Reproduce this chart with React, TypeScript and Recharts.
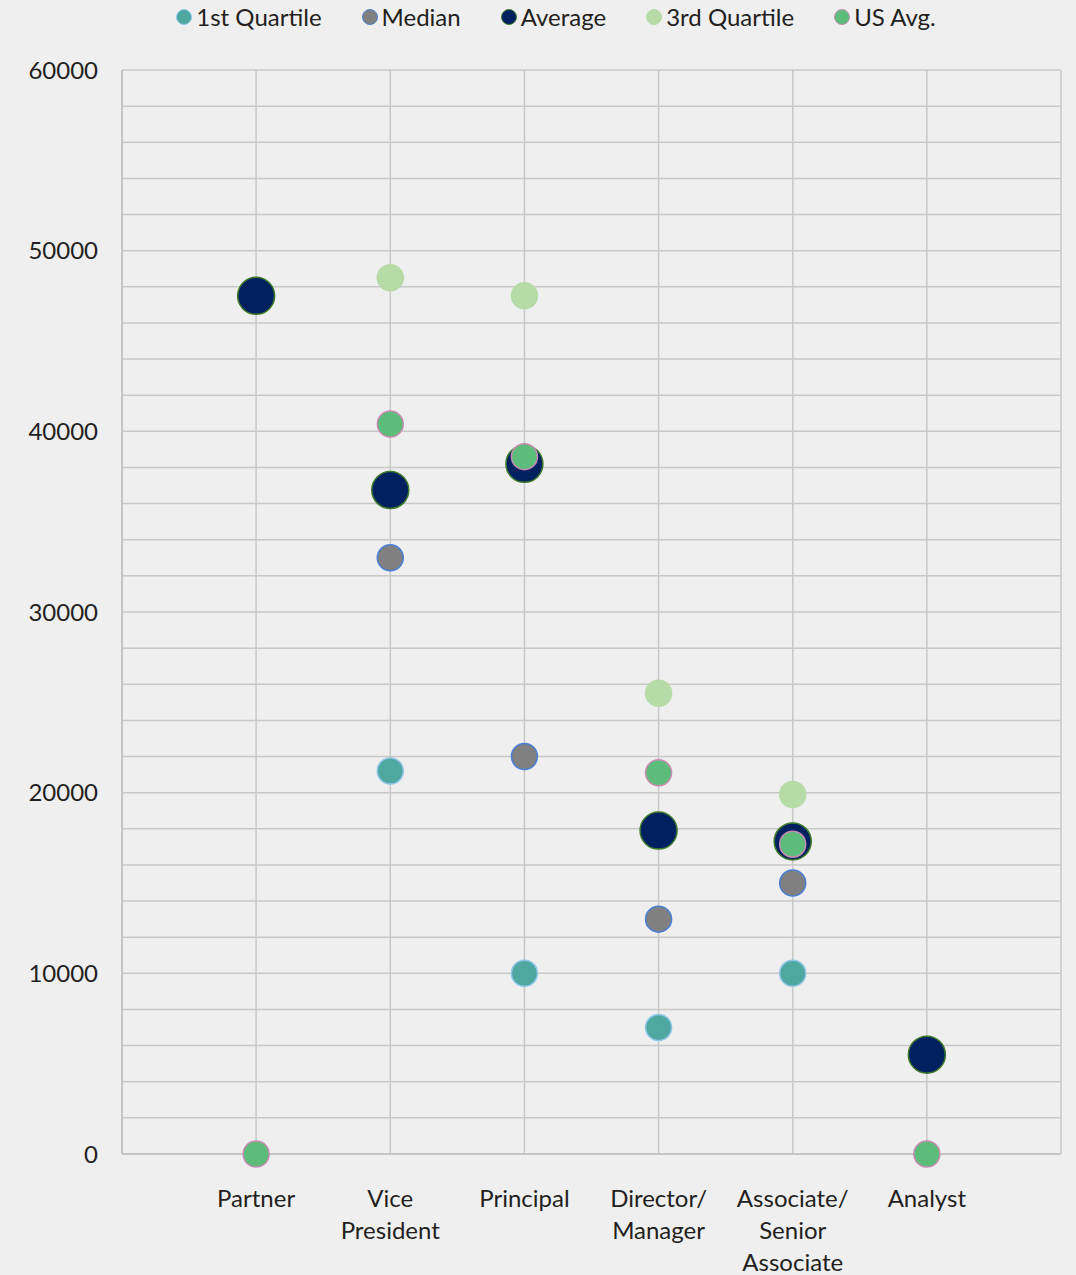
import { ScatterChart, Scatter, XAxis, YAxis, CartesianGrid } from "recharts";

const categories = ["Partner", "Vice\nPresident", "Principal", "Director/\nManager", "Associate/\nSenior\nAssociate", "Analyst"];
const yTicks = [0, 2000, 4000, 6000, 8000, 10000, 12000, 14000, 16000, 18000, 20000, 22000, 24000, 26000, 28000, 30000, 32000, 34000, 36000, 38000, 40000, 42000, 44000, 46000, 48000, 50000, 52000, 54000, 56000, 58000, 60000];

const firstQuartile = [null, 21200, 10000, 7000, 10000, null];
const median = [null, 33000, 22000, 13000, 15000, null];
const average = [47500, 36750, 38200, 17900, 17300, 5500];
const thirdQuartile = [null, 48500, 47500, 25500, 19900, null];
const usAvg = [0, 40400, 38600, 21100, 17150, 0];

const FONT = "Lato, 'Noto Sans', sans-serif";
const TEXT = "#231f20";

const series = [
  { name: "1st Quartile", values: firstQuartile, fill: "#4fa8a0", stroke: "#8ec6e6", r: 13 },
  { name: "Median", values: median, fill: "#808080", stroke: "#4a7fd6", r: 13 },
  { name: "Average", values: average, fill: "#002060", stroke: "#3e7a2c", r: 18.5 },
  { name: "3rd Quartile", values: thirdQuartile, fill: "#b7dba7", stroke: "#b7dba7", r: 13 },
  { name: "US Avg.", values: usAvg, fill: "#5bbd79", stroke: "#c98bb3", r: 13 },
];

const toRows = (vals: (number | null)[]) =>
  vals.map((v, i) => ({ x: i + 1, y: v })).filter((d) => d.y !== null);

function XTick(props: any) {
  const { x, y, payload } = props;
  const i = payload.value - 1;
  if (i < 0 || i >= categories.length) return null;
  const lines = categories[i].split("\n");
  return (
    <text x={x} y={y + 45} textAnchor="middle" fill={TEXT} fontSize={24} fontFamily={FONT}>
      {lines.map((l, k) => (
        <tspan key={k} x={x} dy={k === 0 ? 0 : 32}>{l}</tspan>
      ))}
    </text>
  );
}

function makeShape(fill: string, stroke: string, r: number) {
  return (p: any) => <circle cx={p.cx} cy={p.cy} r={r} fill={fill} stroke={stroke} strokeWidth={1.5} />;
}

export default function App() {
  return (
    <div style={{ position: "absolute", left: 0, top: 0, width: 1076, height: 1275, background: "#efefef", fontFamily: FONT }}>
      <div style={{ position: "absolute", top: 2, left: 0, width: 1076, display: "flex", justifyContent: "center", gap: 40, paddingLeft: 36, boxSizing: "border-box" }}>
        {series.map((s) => (
          <div key={s.name} style={{ display: "flex", alignItems: "center", gap: 4, fontSize: 24, color: TEXT, lineHeight: "30px" }}>
            <span style={{ display: "inline-block", width: 14, height: 14, borderRadius: "50%", background: s.fill, border: `1.5px solid ${s.stroke}` }} />
            {s.name}
          </div>
        ))}
      </div>
      <ScatterChart width={1076} height={1275} margin={{ top: 70, right: 15, bottom: 0, left: 22 }}>
        <CartesianGrid stroke="#c8c8c8" strokeWidth={1.5} />
        <XAxis
          type="number"
          dataKey="x"
          domain={[0, 7]}
          ticks={[0, 1, 2, 3, 4, 5, 6, 7]}
          interval={0}
          tickLine={false}
          axisLine={{ stroke: "#c0c0c0", strokeWidth: 1.5 }}
          height={121}
          tick={<XTick />}
        />
        <YAxis
          type="number"
          dataKey="y"
          domain={[0, 60000]}
          ticks={yTicks}
          interval={0}
          width={100}
          tickLine={false}
          axisLine={{ stroke: "#c0c0c0", strokeWidth: 1.5 }}
          tickFormatter={(v: number) => (v % 10000 === 0 ? String(v) : "")}
          tick={{ fill: TEXT, fontSize: 24, fontFamily: FONT }}
          tickMargin={18}
        />
        {series.map((s) => (
          <Scatter
            key={s.name}
            name={s.name}
            data={toRows(s.values)}
            shape={makeShape(s.fill, s.stroke, s.r)}
            isAnimationActive={false}
          />
        ))}
      </ScatterChart>
    </div>
  );
}
